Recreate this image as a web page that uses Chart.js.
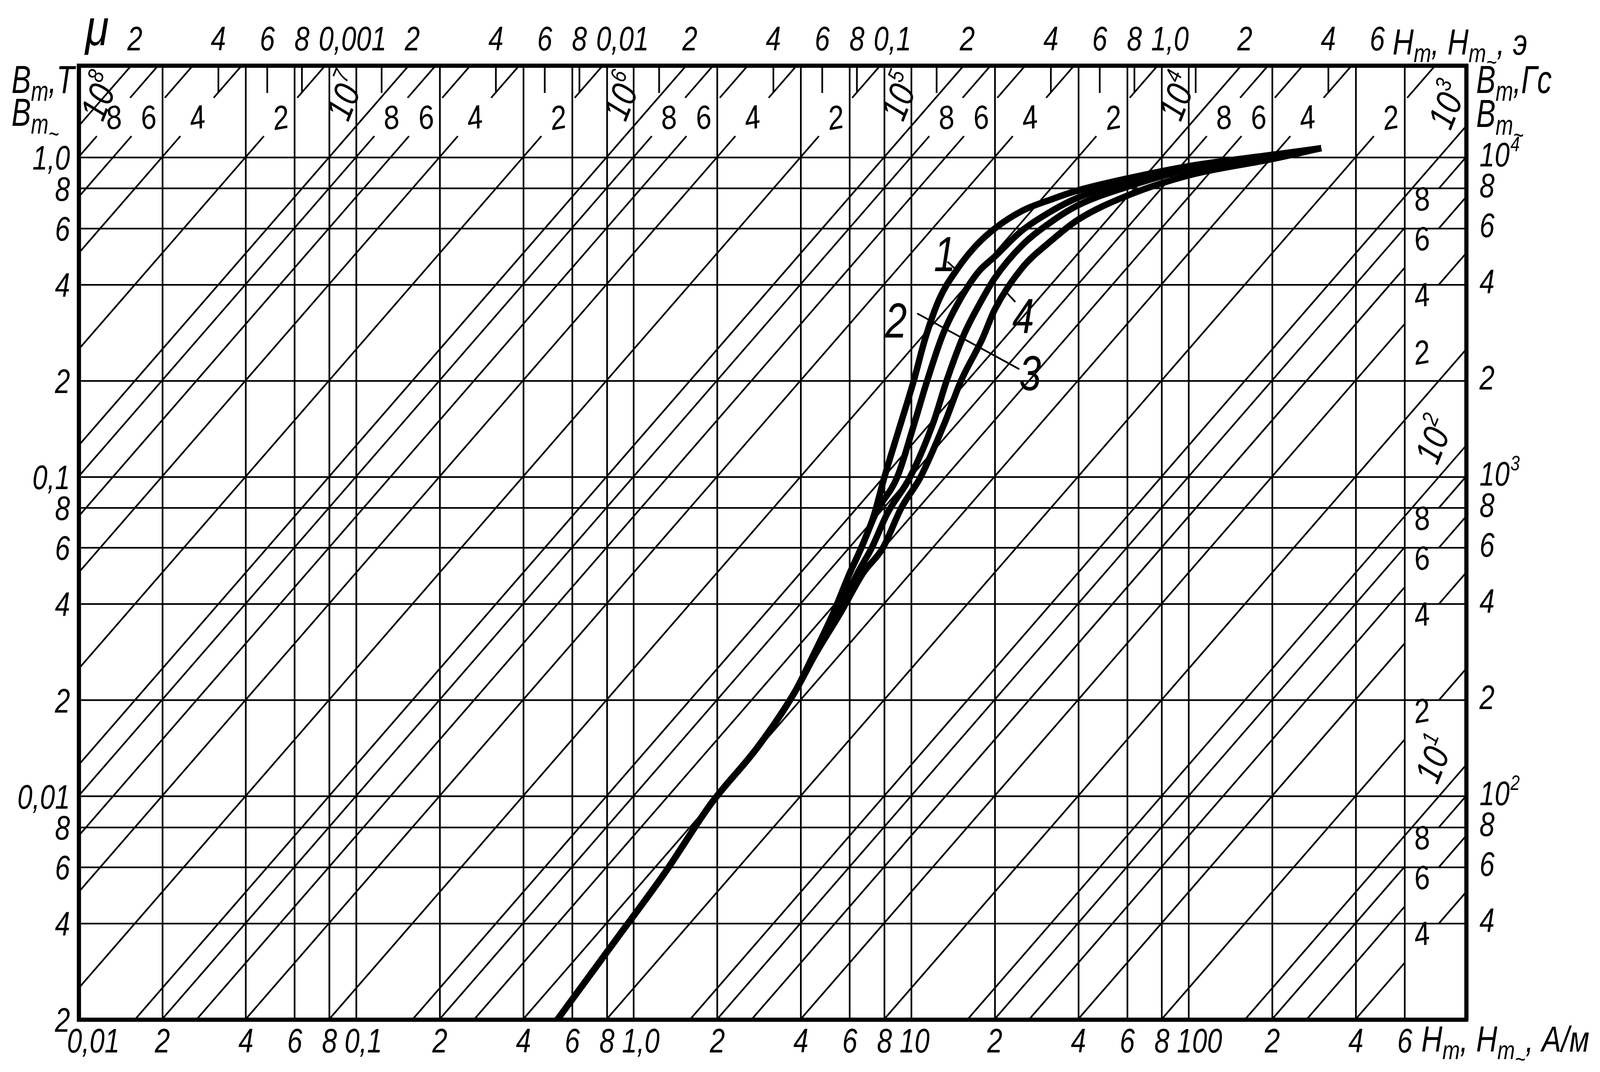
<!DOCTYPE html>
<html lang="ru">
<head>
<meta charset="UTF-8">
<title>Кривые намагничивания</title>
<script src="https://cdn.jsdelivr.net/npm/chart.js@4.4.0/dist/chart.umd.min.js"></script>
<style>
  html, body { margin: 0; padding: 0; background: #fff; overflow: hidden; }
  #wrap { width: 100vw; height: 100vh; position: relative; }
</style>
</head>
<body>
<div id="wrap"><canvas id="chart"></canvas></div>
<script>
const MU0 = 4 * Math.PI * 1e-7;
const AM_PER_OE = 1000 / (4 * Math.PI);

// curves: field H in A/m, induction B in T
const curve1H = [0.53, 0.85, 1.3, 1.9, 2.8, 3.8, 4.4, 5.2, 6.0, 6.6, 7.3, 8.0, 9.0, 10.2, 11.2, 12.6, 14.7, 17.1, 20, 25, 32, 40, 60, 100, 200, 300];
const curve1B = [0.002, 0.0035, 0.0058, 0.0095, 0.0143, 0.0212, 0.0273, 0.037, 0.050, 0.060, 0.075, 0.100, 0.140, 0.200, 0.270, 0.360, 0.450, 0.530, 0.600, 0.680, 0.740, 0.790, 0.860, 0.940, 1.020, 1.070];
const curve2H = [0.53, 0.85, 1.3, 1.9, 2.8, 3.8, 4.4, 5.2, 6.0, 6.6, 7.5, 8.9, 10.2, 11.4, 13.0, 15.0, 17.5, 20, 25, 32, 40, 60, 100, 200, 300];
const curve2B = [0.002, 0.0035, 0.0058, 0.0095, 0.0143, 0.0212, 0.0273, 0.037, 0.050, 0.060, 0.078, 0.100, 0.145, 0.200, 0.280, 0.360, 0.440, 0.490, 0.590, 0.680, 0.750, 0.840, 0.930, 1.015, 1.070];
const curve3H = [0.53, 0.85, 1.3, 1.9, 2.8, 3.8, 4.45, 5.5, 6.4, 7.2, 8.2, 9.9, 12.0, 13.4, 15.5, 18.0, 20, 25, 32, 40, 60, 100, 200, 300];
const curve3B = [0.002, 0.0035, 0.0058, 0.0095, 0.0143, 0.0212, 0.0273, 0.038, 0.050, 0.060, 0.077, 0.100, 0.148, 0.200, 0.280, 0.360, 0.420, 0.530, 0.630, 0.710, 0.810, 0.920, 1.010, 1.070];
const curve4H = [0.53, 0.85, 1.3, 1.9, 2.8, 3.8, 4.45, 5.6, 6.7, 7.9, 9.2, 10.8, 13.2, 15.1, 18.0, 20, 25, 32, 40, 60, 100, 200, 300];
const curve4B = [0.002, 0.0035, 0.0058, 0.0095, 0.0143, 0.0212, 0.0273, 0.038, 0.050, 0.060, 0.080, 0.100, 0.148, 0.200, 0.270, 0.335, 0.450, 0.550, 0.640, 0.760, 0.880, 0.990, 1.070];

// bottom axis, A/m
const hTicks  = [0.01, 0.02, 0.04, 0.06, 0.08, 0.1, 0.2, 0.4, 0.6, 0.8, 1, 2, 4, 6, 8, 10, 20, 40, 60, 80, 100, 200, 400, 600];
const hLabels = ['0,01', '2', '4', '6', '8', '0,1', '2', '4', '6', '8', '1,0', '2', '4', '6', '8', '10', '2', '4', '6', '8', '100', '2', '4', '6'];
// left axis, T
const bTicks  = [0.002, 0.004, 0.006, 0.008, 0.01, 0.02, 0.04, 0.06, 0.08, 0.1, 0.2, 0.4, 0.6, 0.8, 1];
const bLabels = ['2', '4', '6', '8', '0,01', '2', '4', '6', '8', '0,1', '2', '4', '6', '8', '1,0'];
// right axis, Gs
const gsTicks  = [40, 60, 80, 100, 200, 400, 600, 800, 1000, 2000, 4000, 6000, 8000, 10000];
const gsLabels = ['4', '6', '8', '10²', '2', '4', '6', '8', '10³', '2', '4', '6', '8', '10⁴'];
// top axis, Oe
const oeTicks  = [2e-4, 4e-4, 6e-4, 8e-4, 1e-3, 2e-3, 4e-3, 6e-3, 8e-3, 1e-2, 2e-2, 4e-2, 6e-2, 8e-2, 0.1, 0.2, 0.4, 0.6, 0.8, 1, 2, 4, 6];
const oeLabels = ['2', '4', '6', '8', '0,001', '2', '4', '6', '8', '0,01', '2', '4', '6', '8', '0,1', '2', '4', '6', '8', '1,0', '2', '4', '6'];
const oeStubs  = [4e-4, 6e-4, 8e-4, 1.55e-3, 4e-3, 6e-3, 8e-3, 1.55e-2, 4e-2, 6e-2, 8e-2, 0.155, 0.4, 0.6, 0.8, 1.33, 4];
// lines of constant permeability
const muValues = [4, 6, 8, 10, 20, 40, 60, 80, 100, 200, 400, 600, 800, 1e3, 2e3, 4e3, 6e3, 8e3, 1e4, 2e4, 4e4, 6e4, 8e4, 1e5, 2e5, 4e5, 6e5, 8e5, 1e6, 2e6, 4e6, 6e6, 8e6, 1e7, 2e7, 4e7, 6e7, 8e7, 1e8];
const muLabels = ['4', '6', '8', '10¹', '2', '4', '6', '8', '10²', '2', '4', '6', '8', '10³', '2', '4', '6', '8', '10⁴', '2', '4', '6', '8', '10⁵', '2', '4', '6', '8', '10⁶', '2', '4', '6', '8', '10⁷', '2', '4', '6', '8', '10⁸'];

const H_MIN = 0.01, H_MAX = 1000, B_MIN = 0.002, B_MAX = 1.94;
const FONT = "'Liberation Sans', 'DejaVu Sans', sans-serif";

// the sheet was drawn on a 4728 x 2744 page; scale to whatever window we get
const W = window.innerWidth, HT = window.innerHeight;
const kx = W / 4728, ky = HT / 2744, k = Math.min(kx, ky);
const AREA = { left: 233 * kx, top: 168 * ky, right: 4333 * kx, bottom: 2610 * ky };
// label placement for the permeability lines
const STRIP = { gapFrom: 600, gapTo: 795, labelAt: 690, powerAt: 762 };
const TOPBAND = { digitB: 1.34, powerB: 1.55, maxH: 850 };
const labelLift = { 200: 100 };

// curve numbers with their leader lines, in data units
const curveTags = [
  { text: '1', at: [13.2, 0.50], leader: [[13.5, 0.472], [14.4, 0.448]] },
  { text: '4', at: [25.3, 0.32], leader: [[23.7, 0.353], [21.6, 0.385]] },
  { text: '2', at: [8.8, 0.31], leader: [[10.5, 0.325], [24.5, 0.2175]] },
  { text: '3', at: [26.8, 0.212], leader: null }
];

const SUP = { '⁰': '0', '¹': '1', '²': '2', '³': '3', '⁴': '4', '⁵': '5', '⁶': '6', '⁷': '7', '⁸': '8', '⁹': '9' };
const isPower = s => s.startsWith('10') && s.length === 3 && SUP[s[2]] !== undefined;

// where a permeability label sits on its line and where its line is broken
function muAnchor(mu, power) {
  const c = mu * MU0;
  if (mu >= 1000) {
    let b = power ? TOPBAND.powerB : TOPBAND.digitB;
    let h = b / c;
    let clamped = false;
    if (h > TOPBAND.maxH) { h = TOPBAND.maxH; b = c * h; clamped = true; }
    const f = Math.pow(10, 0.06);
    return { h, b, gap: power ? null : [h / f, h * f], shift: power ? (clamped ? 'up' : 'left') : null, lift: 0 };
  }
  if (power) return { h: STRIP.powerAt, b: c * STRIP.powerAt, gap: null, shift: 'up', lift: 0 };
  return { h: STRIP.labelAt, b: c * STRIP.labelAt, gap: [STRIP.gapFrom, STRIP.gapTo], shift: null, lift: 25 + (labelLift[mu] || 0) };
}

function muLine(mu, i) {
  const c = mu * MU0;
  const h0 = Math.max(H_MIN, B_MIN / c);
  const h1 = Math.min(H_MAX, B_MAX / c);
  const a = muAnchor(mu, isPower(muLabels[i]));
  const pts = [{ x: h0, y: c * h0 }];
  if (a.gap && !(mu === 200)) {
    pts.push({ x: a.gap[0], y: c * a.gap[0] }, { x: a.h, y: null }, { x: a.gap[1], y: c * a.gap[1] });
  }
  pts.push({ x: h1, y: c * h1 });
  return pts;
}

const zip = (hs, bs) => hs.map((h, i) => ({ x: h, y: bs[i] }));
const fixTicks = values => scale => { scale.ticks = values.map(v => ({ value: v })); };

// narrow italic lettering like the drafting font of the sheet
function letter(ctx, text, x, y, size, align, squeeze) {
  const sq = squeeze || 0.8;
  ctx.save();
  ctx.translate(x, y);
  ctx.scale(sq, 1);
  ctx.font = `italic ${size}px ${FONT}`;
  let base = text, exp = '';
  if (isPower(text)) { base = '10'; exp = SUP[text[2]]; }
  const wBase = ctx.measureText(base).width;
  ctx.font = `italic ${size * 0.62}px ${FONT}`;
  const wExp = exp ? ctx.measureText(exp).width : 0;
  const total = wBase + wExp;
  let x0 = 0;
  if (align === 'center') x0 = -total / 2;
  if (align === 'right') x0 = -total;
  ctx.textAlign = 'left';
  ctx.font = `italic ${size}px ${FONT}`;
  ctx.fillText(base, x0, 0);
  if (exp) {
    ctx.font = `italic ${size * 0.62}px ${FONT}`;
    ctx.fillText(exp, x0 + wBase + size * 0.03, -size * 0.45);
  }
  ctx.restore();
}

function drawParts(ctx, x, y, parts, size, squeeze) {
  ctx.save();
  ctx.translate(x, y);
  ctx.scale(squeeze, 1);
  ctx.textAlign = 'left';
  let cx = 0;
  parts.forEach(([t, lvl]) => {
    const s = size * [1, 0.72, 0.62][lvl];
    ctx.font = `italic ${s}px ${FONT}`;
    ctx.fillText(t, cx, [0, 0.2, 0.42][lvl] * size);
    cx += ctx.measureText(t).width;
  });
  ctx.restore();
}

const sheetDecor = {
  id: 'sheetDecor',
  afterDraw(chart) {
    const { ctx, chartArea: area, scales } = chart;
    const sx = scales.x, sy = scales.y, so = scales.xOe, sg = scales.yGs;
    ctx.save();
    ctx.strokeStyle = '#000';
    ctx.fillStyle = '#000';
    ctx.textBaseline = 'alphabetic';

    // short Oe marks under the top edge
    ctx.lineWidth = 5 * k;
    oeStubs.forEach(v => {
      const p = so.getPixelForValue(v);
      ctx.beginPath();
      ctx.moveTo(p, area.top);
      ctx.lineTo(p, area.top + 70 * ky);
      ctx.stroke();
    });

    // frame
    ctx.lineWidth = 12 * k;
    ctx.strokeRect(area.left, area.top, area.right - area.left, area.bottom - area.top);

    // tick labels of the four scales
    const tf = 100 * k;
    hTicks.forEach((v, i) => {
      const p = sx.getPixelForValue(v);
      const dec = hLabels[i].length > 1;
      letter(ctx, hLabels[i], dec ? p - 35 * kx : p, area.bottom + 84 * ky, tf, dec ? 'left' : 'center');
    });
    oeTicks.forEach((v, i) => {
      const p = so.getPixelForValue(v);
      const dec = oeLabels[i].length > 1;
      letter(ctx, oeLabels[i], dec ? p - 30 * kx : p, area.top - 39 * ky, tf, dec ? 'left' : 'center');
    });
    bTicks.forEach((v, i) => letter(ctx, bLabels[i], area.left - 26 * kx, sy.getPixelForValue(v) + 36 * k, tf, 'right'));
    gsTicks.forEach((v, i) => letter(ctx, gsLabels[i], area.right + 39 * kx, sg.getPixelForValue(v) + 26 * k, tf, 'left'));

    // permeability labels
    muValues.forEach((mu, i) => {
      const power = isPower(muLabels[i]);
      const a = muAnchor(mu, power);
      let px = sx.getPixelForValue(a.h);
      let py = sy.getPixelForValue(a.b) - a.lift * ky;
      if (a.shift === 'left') px = Math.max(area.left + 60 * kx, px - 110 * kx);
      if (a.shift === 'up') py -= 110 * ky;
      ctx.save();
      ctx.translate(px, py);
      ctx.rotate(power ? -68 * Math.PI / 180 : -10 * Math.PI / 180);
      const size = (power ? 108 : 98) * k;
      letter(ctx, muLabels[i], 0, size * 0.36, size, 'center', 0.85);
      ctx.restore();
    });

    // curve numbers
    ctx.lineWidth = 5 * k;
    curveTags.forEach(t => {
      if (t.leader) {
        ctx.beginPath();
        ctx.moveTo(sx.getPixelForValue(t.leader[0][0]), sy.getPixelForValue(t.leader[0][1]));
        ctx.lineTo(sx.getPixelForValue(t.leader[1][0]), sy.getPixelForValue(t.leader[1][1]));
        ctx.stroke();
      }
      letter(ctx, t.text, sx.getPixelForValue(t.at[0]), sy.getPixelForValue(t.at[1]) + 52 * k, 145 * k, 'center');
    });

    // axis names
    drawParts(ctx, 34 * kx, 238 * ky, [['B', 0], ['m', 1], [',T', 0]], 115 * k, 0.75);
    drawParts(ctx, 34 * kx, 322 * ky, [['B', 0], ['m', 1], ['~', 2]], 115 * k, 0.75);
    drawParts(ctx, 4362 * kx, 238 * ky, [['B', 0], ['m', 1], [',Гс', 0]], 115 * k, 0.75);
    drawParts(ctx, 4362 * kx, 325 * ky, [['B', 0], ['m', 1], ['~', 2]], 115 * k, 0.75);
    drawParts(ctx, 252 * kx, 116 * ky, [['μ', 0]], 150 * k, 0.85);
    drawParts(ctx, 4115 * kx, 140 * ky, [['H', 0], ['m', 1], [', H', 0], ['m', 1], ['~', 2], [', э', 0]], 108 * k, 0.8);
    drawParts(ctx, 4200 * kx, 2692 * ky, [['H', 0], ['m', 1], [', H', 0], ['m', 1], ['~', 2], [', A/м', 0]], 108 * k, 0.8);
    ctx.restore();
  }
};

const curveSets = [[curve1H, curve1B], [curve2H, curve2B], [curve3H, curve3B], [curve4H, curve4B]].map(([h, b], i) => ({
  label: 'кривая ' + (i + 1),
  data: zip(h, b),
  borderColor: '#000',
  borderWidth: 19 * k,
  pointRadius: 0,
  cubicInterpolationMode: 'monotone',
  order: 0
}));

const muSets = muValues.map((mu, i) => ({
  label: 'μ = ' + mu,
  data: muLine(mu, i),
  borderColor: '#000',
  borderWidth: 5 * k,
  pointRadius: 0,
  spanGaps: false,
  clip: 0,
  order: 1
}));

const hiddenTicks = { display: false };

new Chart(document.getElementById('chart'), {
  type: 'line',
  data: { datasets: curveSets.concat(muSets) },
  options: {
    responsive: true,
    maintainAspectRatio: false,
    animation: false,
    layout: { padding: 0 },
    plugins: { legend: { display: false }, tooltip: { enabled: false } },
    scales: {
      x: {
        type: 'logarithmic', position: 'bottom', min: H_MIN, max: H_MAX, bounds: 'data',
        afterBuildTicks: fixTicks(hTicks),
        afterFit: s => { s.height = HT - AREA.bottom; },
        grid: { color: '#000', lineWidth: 5 * k, drawTicks: false },
        border: { display: true, color: '#000', width: 12 * k },
        ticks: hiddenTicks
      },
      xOe: {
        type: 'logarithmic', position: 'top', axis: 'x', min: H_MIN / AM_PER_OE, max: H_MAX / AM_PER_OE, bounds: 'data',
        afterBuildTicks: fixTicks(oeTicks),
        afterFit: s => { s.height = AREA.top; },
        grid: { display: false, drawTicks: false },
        border: { display: true, color: '#000', width: 12 * k },
        ticks: hiddenTicks
      },
      y: {
        type: 'logarithmic', position: 'left', min: B_MIN, max: B_MAX, bounds: 'data',
        afterBuildTicks: fixTicks(bTicks),
        afterFit: s => { s.width = AREA.left; },
        grid: { color: '#000', lineWidth: 5 * k, drawTicks: false },
        border: { display: true, color: '#000', width: 12 * k },
        ticks: hiddenTicks
      },
      yGs: {
        type: 'logarithmic', position: 'right', axis: 'y', min: B_MIN * 1e4, max: B_MAX * 1e4, bounds: 'data',
        afterBuildTicks: fixTicks(gsTicks),
        afterFit: s => { s.width = W - AREA.right; },
        grid: { display: false, drawTicks: false },
        border: { display: true, color: '#000', width: 12 * k },
        ticks: hiddenTicks
      }
    }
  },
  plugins: [sheetDecor]
});
</script>
</body>
</html>
